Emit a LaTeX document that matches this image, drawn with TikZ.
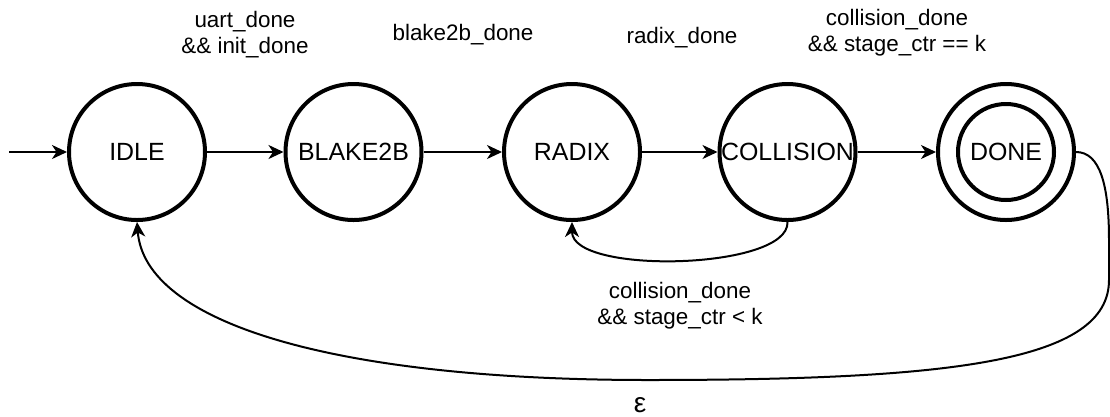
\documentclass[tikz,border=0pt]{standalone}
\usepackage{fontspec}
\setmainfont{Liberation Sans}
\usetikzlibrary{arrows.meta,calc}
\begin{document}
\begin{tikzpicture}[x=1bp,y=-1bp,
  state/.style={circle,draw,line width=4bp,minimum size=136bp,inner sep=0pt,
    font=\fontsize{25}{30}\selectfont},
  cond/.style={inner sep=0pt,align=center,font=\fontsize{22.5}{26}\selectfont},
  trans/.style={line width=2bp,-{Stealth[length=15bp,width=14bp,inset=4.5bp]}}]
\useasboundingbox (0,0) rectangle (1110,416);

% states
\node[state] (idle)   at (137,152)  {IDLE};
\node[state] (blake)  at (353.5,152) {BLAKE2B};
\node[state] (radix)  at (572,152)  {RADIX};
\node[state] (coll)   at (787.5,152) {COLLISION};
\node[state] (done)   at (1006,152) {};
\draw[line width=4bp] (done.center) circle (48bp);
\node[inner sep=0pt,font=\fontsize{25}{30}\selectfont] (donetext) at (done.center) {DONE};

% entry point
\coordinate (start) at (9,152);
\draw[trans] (start) -- (idle);

% forward transitions
\draw[trans] (idle) -- (blake);
\draw[trans] (blake) -- (radix);
\draw[trans] (radix) -- (coll);
\draw[trans] (coll) -- (done);

% loop back to RADIX
\draw[trans] (coll.south) .. controls ($(coll.south)+(2,48)$) and ($(radix.south)+(0,53)$) .. (radix.south);

% return to IDLE
\draw[trans] (done.east) .. controls (1100,152) and (1109,185) .. (1109,240)
  -- (1109,280) .. controls (1109,362) and (950,380) .. (648,380)
  .. controls (330,380) and (145,322) .. (idle.south);

% transition conditions
\node[cond,anchor=north] (c1) at (245,11) {uart\_done\\\&\& init\_done};
\node[cond,anchor=base]  (c2) at (463,40) {blake2b\_done};
\node[cond,anchor=base]  (c3) at (682,43) {radix\_done};
\node[cond,anchor=north] (c4) at (897,9) {collision\_done\\\&\& stage\_ctr == k};
\node[cond,anchor=north] (c5) at (680,282) {collision\_done\\\&\& stage\_ctr < k};
\node[cond,anchor=base,font=\fontsize{28}{30}\selectfont] (c6) at (640,412) {ε};
\end{tikzpicture}
\end{document}
